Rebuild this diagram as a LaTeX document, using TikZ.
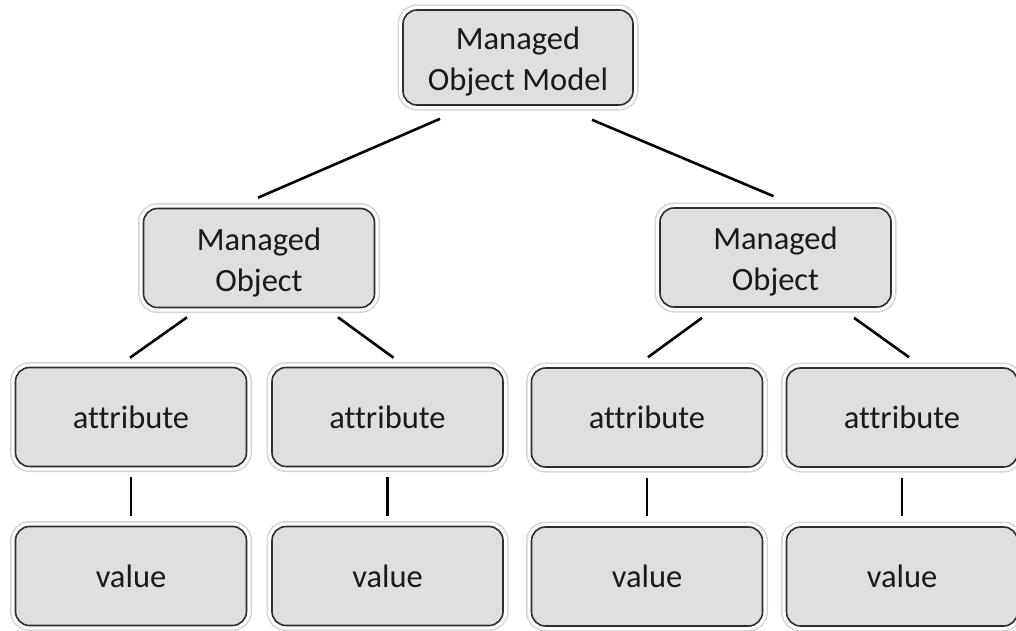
\documentclass[tikz,border=0pt]{standalone}
\usepackage{fontspec}
\setmainfont{Carlito}[Ligatures=NoCommon]
\usetikzlibrary{calc}
\definecolor{boxfill}{RGB}{223,223,223}
\definecolor{boxedge}{RGB}{45,45,45}
\definecolor{halo}{RGB}{212,212,212}
% taller first line so two-line labels sit a little lower in their boxes
\newcommand{\toplinestrut}{\rule{0pt}{31pt}}
\begin{document}
\begin{tikzpicture}[x=1pt,y=-1pt,
  box/.style={rectangle, rounded corners=14pt, align=center,
    minimum width=231pt, minimum height=99pt, inner sep=0pt,
    preaction={draw=halo, line width=11pt},
    preaction={draw=white, line width=8pt},
    fill=boxfill, draw=boxedge, line width=1.6pt,
    text=black!90, font=\fontsize{32.5}{41}\selectfont},
  link/.style={draw=black, line width=2.6pt}]
\useasboundingbox (0,0) rectangle (1016,630);

% root
\node[box, minimum width=230pt, minimum height=95pt] (root) at (518,57.5) {\toplinestrut Managed\\Object Model};

% managed objects
\node[box] (mol) at (259,258) {\toplinestrut Managed\\Object};
\node[box] (mor) at (775.5,257.5) {\toplinestrut Managed\\Object};

% attributes
\node[box] (a1) at (131,417) {attribute};
\node[box] (a2) at (387.5,417) {attribute};
\node[box] (a3) at (647,417.5) {attribute};
\node[box] (a4) at (902,417.5) {attribute};

% values
\node[box] (v1) at (131,576) {value};
\node[box] (v2) at (387.5,576) {value};
\node[box] (v3) at (647,576.5) {value};
\node[box] (v4) at (902,576.5) {value};

% root to managed objects
\draw[link] ($(root.south)+(-78,13)$) -- ($(mol.north)+(-1,-10)$);
\draw[link] ($(root.south)+(74,14)$) -- ($(mor.north)+(-2,-11)$);

% managed objects to attributes
\draw[link] ($(mol.south)+(-72,9)$) -- ($(a1.north)+(-1,-9)$);
\draw[link] ($(mol.south)+(79,9)$) -- ($(a2.north)+(6,-9)$);
\draw[link] ($(mor.south)+(-73.5,10)$) -- ($(a3.north)+(1,-10)$);
\draw[link] ($(mor.south)+(78.5,10)$) -- ($(a4.north)+(7,-10)$);

% attributes to values
\foreach \i in {1,2,3,4}
  \draw[link] ($(a\i.south)+(0,10)$) -- ($(v\i.north)+(0,-10)$);
\end{tikzpicture}
\end{document}
